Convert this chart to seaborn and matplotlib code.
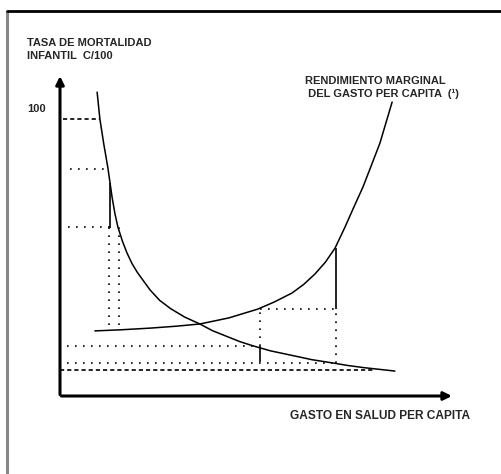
import matplotlib
matplotlib.use("Agg")
import matplotlib.pyplot as plt
import seaborn as sns
import pandas as pd

# curva de mortalidad infantil (gasto vs tasa)
gasto_mort = [13.4, 14.4, 15.8, 17.3, 18.8, 19.8, 20.9, 22.5, 24.2, 26.0, 28.0, 32.5, 36.0, 40.0,
              45.0, 50.5, 55.0, 60.0, 65.0, 69.7, 76.0, 84.0, 91.0, 98.6, 104.0, 110.0, 115.5, 120.9]
tasa_mort = [109.7, 100.0, 91.0, 82.3, 71.8, 66.0, 61.0, 56.0, 51.6, 47.8, 44.5, 38.3, 34.5, 31.5,
             28.5, 26.0, 23.6, 21.6, 19.6, 18.1, 16.3, 14.6, 13.1, 11.9, 11.0, 10.2, 9.6, 9.0]

# curva de rendimiento marginal
gasto_rend = [12.6, 22.0, 32.5, 42.0, 50.5, 61.0, 71.5, 77.5, 83.8, 88.0, 92.0, 95.8, 99.3, 102.9,
              106.0, 109.4, 112.5, 115.5, 119.9]
valor_rend = [23.5, 23.9, 24.5, 25.2, 26.0, 28.2, 31.4, 34.0, 37.2, 40.3, 44.0, 48.3, 53.4, 61.0,
              68.0, 75.5, 83.5, 91.3, 106.1]

# lineas guia horizontales: nivel y, desde, hasta
h_punt_y = [82.0, 61.0, 18.1, 11.9, 31.4]
h_punt_x0 = [3.6, 2.9, 2.5, 2.5, 72.2]
h_punt_x1 = [17.3, 18.0, 69.7, 98.6, 99.6]
h_gui_y = [100.0, 9.4]
h_gui_x0 = [1.0, 0.0]
h_gui_x1 = [14.4, 113.0]

# lineas guia verticales
v_punt_x = [17.7, 21.3, 72.2, 99.6]
v_punt_y0 = [25.5, 25.5, 18.1, 12.0]
v_punt_y1 = [61.0, 61.0, 31.0, 31.4]
v_sol_x = [18.0, 72.2, 99.6]
v_sol_y0 = [60.6, 12.3, 31.4]
v_sol_y1 = [76.9, 18.1, 53.4]

sns.set_style("white")
plt.rcParams['font.family'] = ['Liberation Sans', 'DejaVu Sans']

fig = plt.figure(figsize=(5.02, 4.74), dpi=100)
ax = fig.add_axes([0, 0, 1, 1])
ax.set_xlim(-21.66, 159.57)
ax.set_ylim(-28.16, 142.96)
ax.axis('off')

mort = pd.DataFrame({'gasto': gasto_mort, 'tasa': tasa_mort})
rend = pd.DataFrame({'gasto': gasto_rend, 'valor': valor_rend})
sns.lineplot(data=mort, x='gasto', y='tasa', color='black', lw=1.1, sort=False, ax=ax)
sns.lineplot(data=rend, x='gasto', y='valor', color='black', lw=1.1, sort=False, ax=ax)

dot = (0, (1, 3.8))
dash = (0, (2.5, 1.8))
ax.hlines(h_punt_y, h_punt_x0, h_punt_x1, colors='black', linestyles=[dot], lw=1.2)
ax.hlines(h_gui_y, h_gui_x0, h_gui_x1, colors='black', linestyles=[dash], lw=1.2)
ax.vlines(v_punt_x, v_punt_y0, v_punt_y1, colors='black', linestyles=[dot], lw=1.2)
ax.vlines(v_sol_x, v_sol_y0, v_sol_y1, colors='black', lw=1.2)

# ejes con flecha
ax.annotate('', xy=(0, 116.5), xytext=(0, -0.5),
            arrowprops=dict(arrowstyle='-|>', lw=2.2, color='black', mutation_scale=12))
ax.annotate('', xy=(142.5, 0), xytext=(-0.5, 0),
            arrowprops=dict(arrowstyle='-|>', lw=2.2, color='black', mutation_scale=12))

fs = 8
fw = 'bold'
ax.text(-11.9, 125.0, 'TASA DE MORTALIDAD\nINFANTIL  C/100', fontsize=fs, ha='left', va='center',
        linespacing=1.35, fontweight=fw)
ax.text(-5.0, 103.5, '100', fontsize=fs, ha='right', va='center', fontweight=fw)
ax.text(88.5, 111.5, 'RENDIMIENTO MARGINAL\n DEL GASTO PER CAPITA  (¹)', fontsize=fs, ha='left',
        va='center', linespacing=1.35, fontweight=fw)
ax.text(83.0, -7.2, 'GASTO EN SALUD PER CAPITA', fontsize=8.6, ha='left', va='center', fontweight=fw)

# marco del escaneo
ax.plot([-19.1, -19.1], [-28.2, 139.0], color='#888888', lw=2.2, solid_capstyle='butt')
ax.plot([-19.1, 159.6], [139.0, 139.0], color='black', lw=2.0)

fig.savefig('out.png', dpi=100)
